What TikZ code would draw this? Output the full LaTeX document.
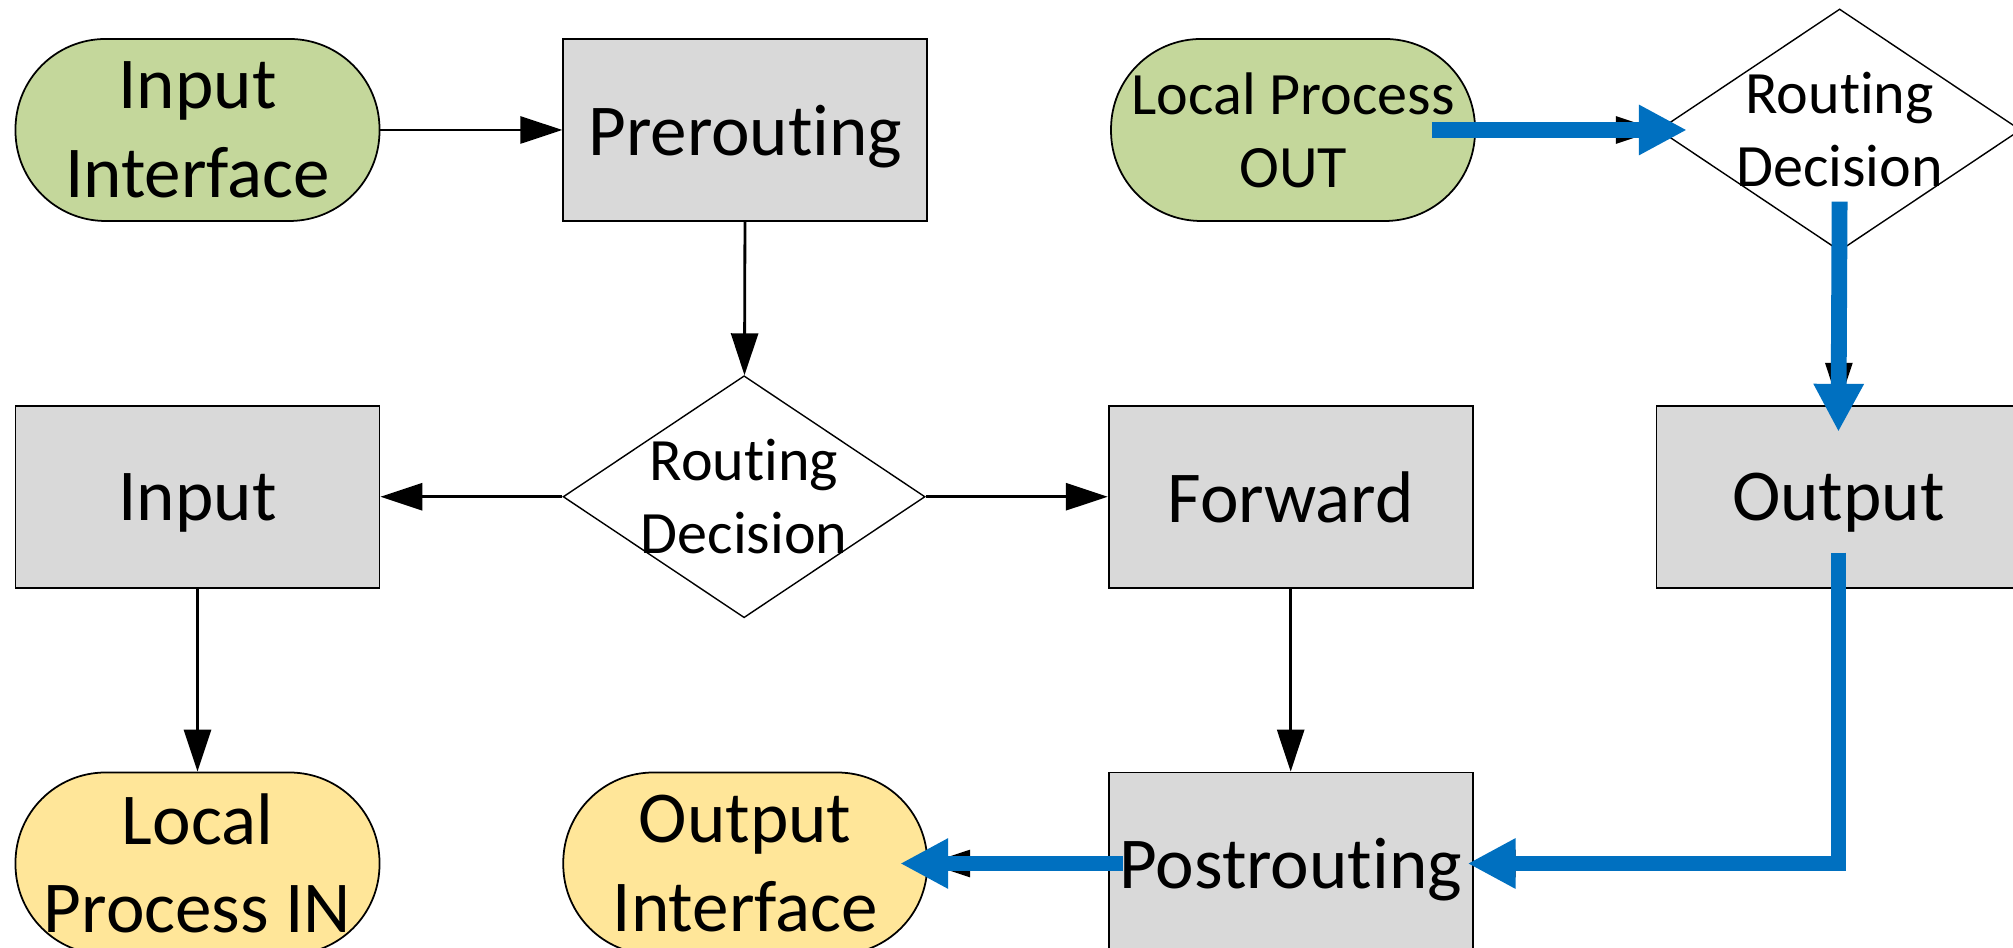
\documentclass[tikz,border=0pt]{standalone}
\usepackage{fontspec}
\setmainfont{Carlito}[RawFeature={-liga;-clig;-calt}]
\usetikzlibrary{arrows.meta,positioning,shapes.geometric}
\definecolor{boxgray}{HTML}{D9D9D9}
\definecolor{termgreen}{HTML}{C4D79B}
\definecolor{termyellow}{HTML}{FFE699}
\definecolor{pathblue}{HTML}{0070C0}
\newcommand{\bigtxt}{\fontsize{20.8pt}{25.2pt}\selectfont}
\newcommand{\smalltxt}{\fontsize{17.1pt}{20.8pt}\selectfont}
\tikzset{
  hookbox/.style={
    rectangle,
    draw=black,
    line width=0.5pt,
    fill=boxgray,
    align=center,
    inner sep=0pt,
    text depth=0pt,
    minimum width=3.64cm,
    minimum height=1.82cm,
    font=\bigtxt
  },
  iface/.style={
    rectangle,
    rounded corners=0.9cm,
    draw=black,
    line width=0.5pt,
    align=center,
    inner sep=0pt,
    minimum width=3.64cm,
    minimum height=1.82cm,
    font=\bigtxt
  },
  decision/.style={
    diamond,
    draw=black,
    line width=0.4pt,
    fill=white,
    align=center,
    aspect=1.5,
    inner sep=-4pt,
    minimum width=3.62cm,
    minimum height=2.42cm,
    font=\smalltxt
  },
  line/.style={-{Triangle[length=4.2mm, width=2.7mm]}, line width=0.8pt, draw=black},
  pkt/.style={-{Triangle[length=4.8mm, width=4.7mm]}, line width=4.5pt, draw=pathblue, line join=miter}
}
\begin{document}
\begin{tikzpicture}[node distance=1.83cm and 1.82cm]
  \useasboundingbox (0,0) rectangle (20.13,9.48);

  % top row
  \node[iface, fill=termgreen] (inif) at (1.975,8.18) {Input\\Interface};
  \node[hookbox, right=of inif] (prert) {Prerouting};
  \node[iface, fill=termgreen, font=\smalltxt, right=of prert] (lpout) {Local Process\\OUT};
  \node[decision, right=of lpout] (topdec) {Routing\\Decision};

  % middle row
  \node[hookbox, below=of inif] (input) {Input};
  \node[decision, right=of input] (middec) {Routing\\Decision};
  \node[hookbox, right=of middec] (fwd) {Forward};
  \node[hookbox, right=of fwd] (output) {Output};

  % bottom row
  \node[iface, fill=termyellow, below=of input] (lpin) {Local\\Process IN};
  \node[iface, fill=termyellow, right=of lpin] (outif) {Output\\Interface};
  \node[hookbox, below=of fwd] (postrt) {Postrouting};

  \draw[line] (inif) -- (prert);
  \draw[line] (prert) -- (middec);
  \draw[line] (middec) -- (input);
  \draw[line] (middec) -- (fwd);
  \draw[line] (input) -- (lpin);
  \draw[line] (fwd) -- (postrt);
  \draw[line] (lpout) -- (topdec);
  \draw[line] (topdec) -- (output);
  \draw[line] (output) |- (postrt);
  \draw[line] (postrt) -- (outif);

  % locally generated packet path
  \coordinate (b1s) at ([xshift=-0.44cm]lpout.east);
  \coordinate (b1e) at ([xshift=0.29cm]topdec.west);
  \coordinate (b2s) at ([yshift=0.5cm]topdec.south);
  \coordinate (b2e) at ([yshift=-0.27cm]output.north);
  \coordinate (b3s) at ([yshift=0.36cm]output.south);
  \coordinate (b3e) at ([xshift=-0.06cm]postrt.east);
  \coordinate (b4s) at ([xshift=0.15cm]postrt.west);
  \coordinate (b4e) at ([xshift=-0.28cm]outif.east);
  \draw[pkt] (b1s) -- (b1e);
  \draw[pkt] (b2s) -- (b2e);
  \draw[pkt] (b3s) |- (b3e);
  \draw[pkt] (b4s) -- (b4e);
\end{tikzpicture}
\end{document}
